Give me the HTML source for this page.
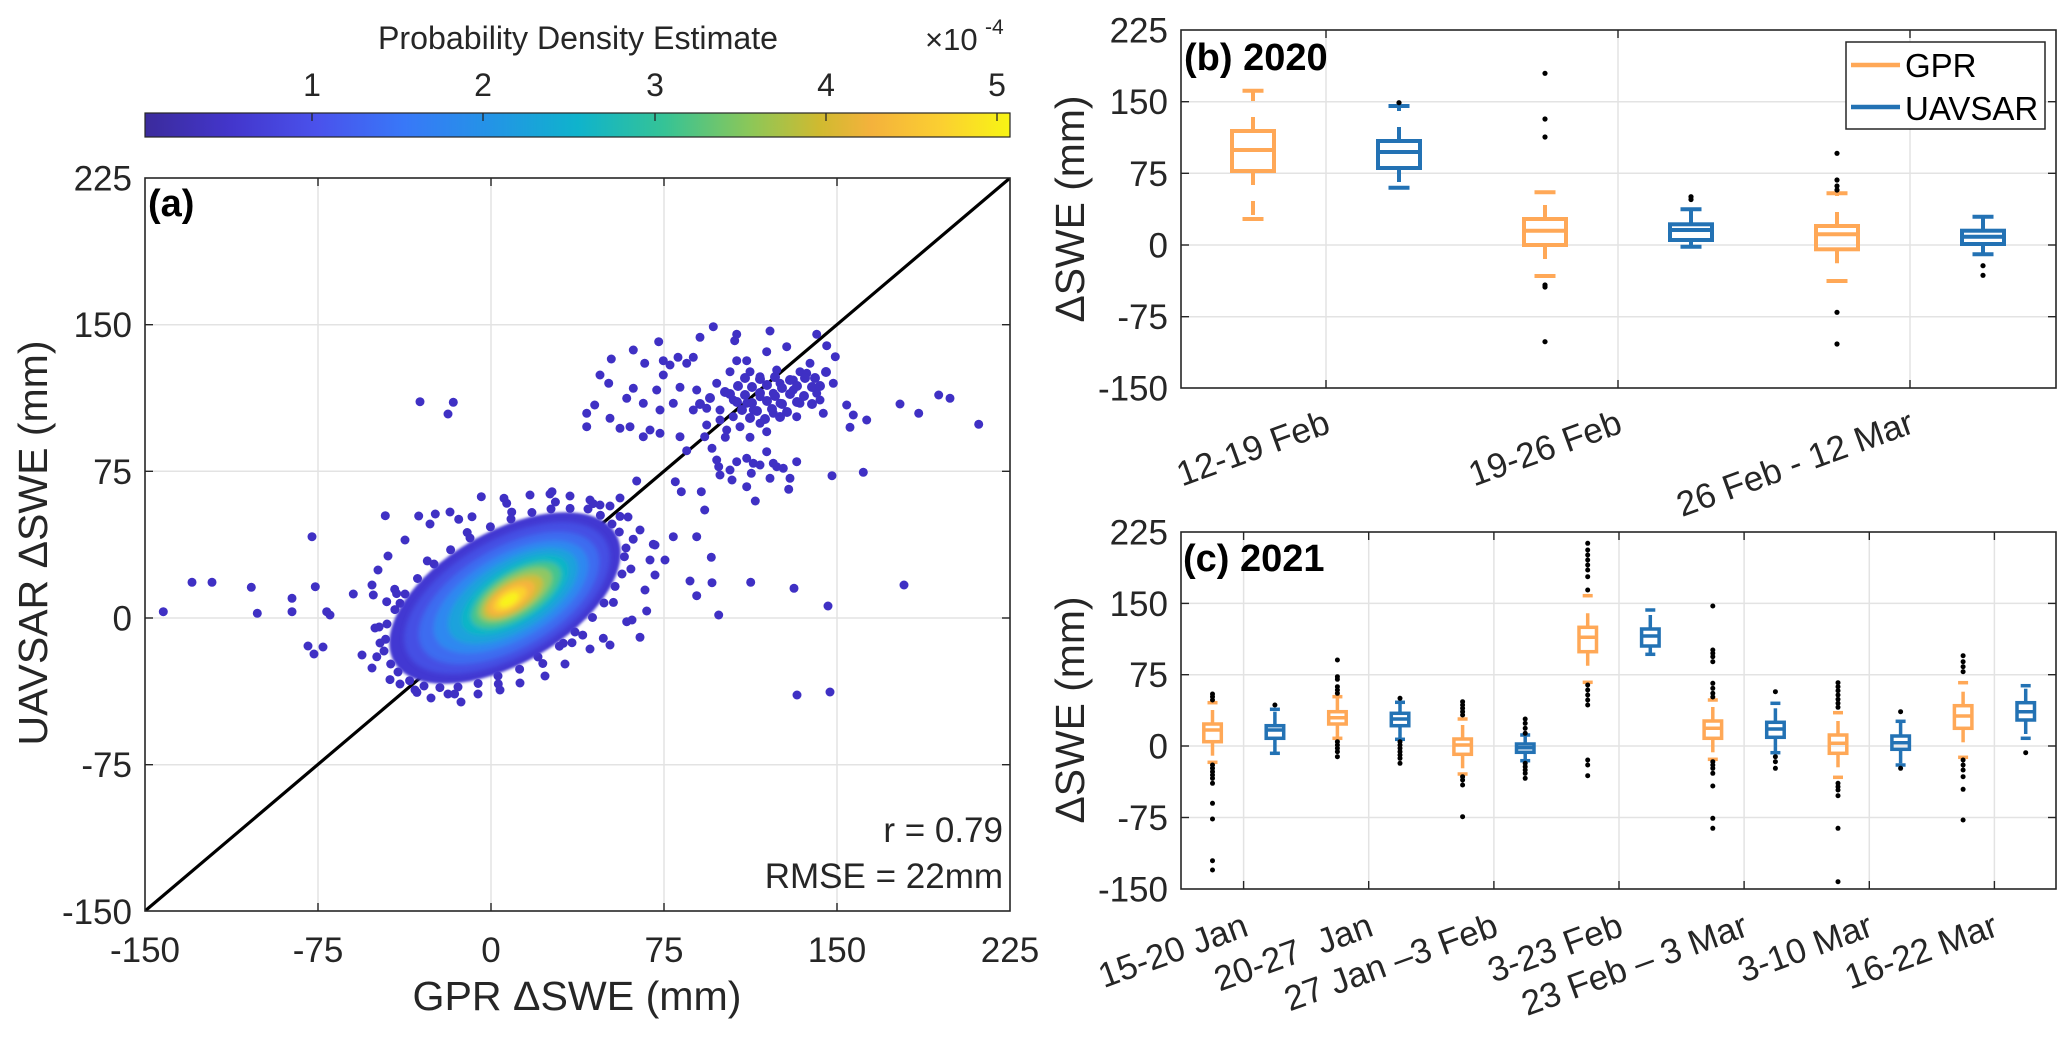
<!DOCTYPE html>
<html><head><meta charset="utf-8"><style>
html,body{margin:0;padding:0;background:#fff;}
body{width:2067px;height:1038px;overflow:hidden;}
svg{display:block;}
text{font-family:"Liberation Sans",Arial,sans-serif;}
</style></head><body>
<svg width="2067" height="1038" viewBox="0 0 2067 1038" xmlns="http://www.w3.org/2000/svg">
<defs>
<linearGradient id="parula" x1="0" y1="0" x2="1" y2="0">
<stop offset="0" stop-color="#3b2b9c"/>
<stop offset="0.10" stop-color="#4336cc"/>
<stop offset="0.20" stop-color="#4a52ec"/>
<stop offset="0.30" stop-color="#3878f8"/>
<stop offset="0.40" stop-color="#2394e6"/>
<stop offset="0.50" stop-color="#0fb3cc"/>
<stop offset="0.60" stop-color="#35c396"/>
<stop offset="0.70" stop-color="#8cc758"/>
<stop offset="0.78" stop-color="#d0ba30"/>
<stop offset="0.84" stop-color="#f4b23c"/>
<stop offset="0.92" stop-color="#fbcf31"/>
<stop offset="1" stop-color="#f8f514"/>
</linearGradient>
<clipPath id="clipA"><rect x="145" y="178" width="865" height="733"/></clipPath>
<filter id="bl" x="-20%" y="-20%" width="140%" height="140%"><feGaussianBlur stdDeviation="2.5"/></filter>
<filter id="bl1" x="-20%" y="-20%" width="140%" height="140%"><feGaussianBlur stdDeviation="1.2"/></filter>
</defs>

<!-- ================= COLORBAR ================= -->
<text x="378" y="49" font-size="32" fill="#262626" textLength="400" lengthAdjust="spacingAndGlyphs">Probability Density Estimate</text>
<text x="925" y="50" font-size="31" fill="#262626">×10</text>
<text x="985" y="34" font-size="21" fill="#262626">-4</text>
<rect x="145" y="113" width="865" height="24" fill="url(#parula)" stroke="#262626" stroke-width="1.2"/>
<g stroke="#262626" stroke-width="1.3">
<line x1="312" y1="113" x2="312" y2="121"/><line x1="483" y1="113" x2="483" y2="121"/>
<line x1="655" y1="113" x2="655" y2="121"/><line x1="826" y1="113" x2="826" y2="121"/>
<line x1="997" y1="113" x2="997" y2="121"/>
</g>
<g font-size="32" fill="#262626" text-anchor="middle">
<text x="312" y="96">1</text><text x="483" y="96">2</text><text x="655" y="96">3</text><text x="826" y="96">4</text><text x="997" y="96">5</text>
</g>

<!-- ================= PANEL A ================= -->
<g stroke="#e3e3e3" stroke-width="1.5">
<line x1="318" y1="178" x2="318" y2="911"/><line x1="491" y1="178" x2="491" y2="911"/>
<line x1="664" y1="178" x2="664" y2="911"/><line x1="837" y1="178" x2="837" y2="911"/>
<line x1="145" y1="324.7" x2="1010" y2="324.7"/><line x1="145" y1="471.3" x2="1010" y2="471.3"/>
<line x1="145" y1="618" x2="1010" y2="618"/><line x1="145" y1="764.7" x2="1010" y2="764.7"/>
</g>
<g clip-path="url(#clipA)">
<line x1="145" y1="911" x2="1010" y2="178" stroke="#000" stroke-width="3.2"/>
<g fill="#3f30c4">
<circle cx="713.3" cy="326.7" r="4.5"/><circle cx="700" cy="337.3" r="4.5"/><circle cx="736.7" cy="334.3" r="4.5"/><circle cx="734.7" cy="340.7" r="4.5"/><circle cx="770" cy="331" r="4.5"/><circle cx="816.7" cy="334.3" r="4.5"/><circle cx="826.7" cy="345.7" r="4.5"/><circle cx="658.7" cy="341.7" r="4.5"/><circle cx="633.3" cy="350" r="4.5"/><circle cx="611.3" cy="359" r="4.5"/><circle cx="644.7" cy="363.3" r="4.5"/><circle cx="663.3" cy="360.7" r="4.5"/><circle cx="678" cy="357.3" r="4.5"/><circle cx="693.3" cy="357.3" r="4.5"/><circle cx="686.7" cy="363.3" r="4.5"/><circle cx="670" cy="365" r="4.5"/><circle cx="835.3" cy="356.7" r="4.5"/><circle cx="810" cy="363.3" r="4.5"/><circle cx="786.7" cy="346.7" r="4.5"/><circle cx="766.7" cy="351.7" r="4.5"/><circle cx="746.7" cy="360.7" r="4.5"/><circle cx="736.7" cy="360.7" r="4.5"/><circle cx="776.7" cy="370" r="4.5"/><circle cx="800" cy="371.7" r="4.5"/><circle cx="600" cy="375" r="4.5"/><circle cx="608.7" cy="383.3" r="4.5"/><circle cx="633.3" cy="388.3" r="4.5"/><circle cx="656.7" cy="390" r="4.5"/><circle cx="663.3" cy="375" r="4.5"/><circle cx="680" cy="387.3" r="4.5"/><circle cx="696.7" cy="390" r="4.5"/><circle cx="716.7" cy="383.3" r="4.5"/><circle cx="730" cy="371.7" r="4.5"/><circle cx="750" cy="371.7" r="4.5"/><circle cx="760" cy="376.7" r="4.5"/><circle cx="780" cy="383.3" r="4.5"/><circle cx="793.3" cy="380" r="4.5"/><circle cx="806.7" cy="373.3" r="4.5"/><circle cx="833.3" cy="383.3" r="4.5"/><circle cx="820" cy="400" r="4.5"/><circle cx="846.7" cy="405" r="4.5"/><circle cx="853.3" cy="415" r="4.5"/><circle cx="866.7" cy="420" r="4.5"/><circle cx="850" cy="427.3" r="4.5"/><circle cx="823.3" cy="413.3" r="4.5"/><circle cx="796.7" cy="416.7" r="4.5"/><circle cx="773.3" cy="413.3" r="4.5"/><circle cx="753.3" cy="410" r="4.5"/><circle cx="733.3" cy="416.7" r="4.5"/><circle cx="720" cy="420" r="4.5"/><circle cx="706.7" cy="425" r="4.5"/><circle cx="726.7" cy="430" r="4.5"/><circle cx="740" cy="426.7" r="4.5"/><circle cx="760" cy="423.3" r="4.5"/><circle cx="766.7" cy="431.7" r="4.5"/><circle cx="750" cy="437.3" r="4.5"/><circle cx="725.3" cy="437.3" r="4.5"/><circle cx="704.7" cy="436.7" r="4.5"/><circle cx="680" cy="436.7" r="4.5"/><circle cx="660" cy="433.3" r="4.5"/><circle cx="643.3" cy="436.7" r="4.5"/><circle cx="650" cy="430" r="4.5"/><circle cx="630" cy="426.7" r="4.5"/><circle cx="620" cy="428.3" r="4.5"/><circle cx="610" cy="418.3" r="4.5"/><circle cx="586.7" cy="413.3" r="4.5"/><circle cx="586.7" cy="426.7" r="4.5"/><circle cx="594.7" cy="405" r="4.5"/><circle cx="626.7" cy="398.3" r="4.5"/><circle cx="643.3" cy="403.3" r="4.5"/><circle cx="660" cy="410" r="4.5"/><circle cx="673.3" cy="403.3" r="4.5"/><circle cx="693.3" cy="410" r="4.5"/><circle cx="706.7" cy="408.3" r="4.5"/><circle cx="720" cy="410" r="4.5"/><circle cx="733.3" cy="400" r="4.5"/><circle cx="746.7" cy="403.3" r="4.5"/><circle cx="760" cy="396.7" r="4.5"/><circle cx="773.3" cy="393.3" r="4.5"/><circle cx="793.3" cy="390" r="4.5"/><circle cx="780" cy="403.3" r="4.5"/><circle cx="800" cy="403.3" r="4.5"/><circle cx="816.7" cy="393.3" r="4.5"/><circle cx="900" cy="404" r="4.5"/><circle cx="918.7" cy="413.3" r="4.5"/><circle cx="938.7" cy="395" r="4.5"/><circle cx="950" cy="398.3" r="4.5"/><circle cx="978.7" cy="424.3" r="4.5"/>
<circle cx="716.7" cy="460" r="4.5"/><circle cx="718.7" cy="466.7" r="4.5"/><circle cx="720" cy="475" r="4.5"/><circle cx="730" cy="470" r="4.5"/><circle cx="732" cy="480" r="4.5"/><circle cx="736.7" cy="461.7" r="4.5"/><circle cx="746.7" cy="458.3" r="4.5"/><circle cx="751.3" cy="473.3" r="4.5"/><circle cx="753.3" cy="463.3" r="4.5"/><circle cx="760" cy="465" r="4.5"/><circle cx="766.7" cy="451.7" r="4.5"/><circle cx="773.3" cy="463.3" r="4.5"/><circle cx="770" cy="478.3" r="4.5"/><circle cx="776.7" cy="466.7" r="4.5"/><circle cx="783.3" cy="468.3" r="4.5"/><circle cx="790" cy="478.3" r="4.5"/><circle cx="788.7" cy="489.3" r="4.5"/><circle cx="796.7" cy="461.7" r="4.5"/><circle cx="746.7" cy="486.7" r="4.5"/><circle cx="755.3" cy="501" r="4.5"/><circle cx="704.7" cy="510" r="4.5"/><circle cx="686.7" cy="450.7" r="4.5"/><circle cx="675.3" cy="481.7" r="4.5"/><circle cx="681.3" cy="491.7" r="4.5"/><circle cx="701.3" cy="491.7" r="4.5"/><circle cx="832" cy="475.7" r="4.5"/><circle cx="863.3" cy="472.3" r="4.5"/><circle cx="636.7" cy="481" r="4.5"/><circle cx="712" cy="448.3" r="4.5"/>
<circle cx="420" cy="401.7" r="4.5"/><circle cx="453.3" cy="402.3" r="4.5"/><circle cx="448" cy="414" r="4.5"/><circle cx="312" cy="536.7" r="4.5"/><circle cx="385.3" cy="515.7" r="4.5"/><circle cx="418.7" cy="516" r="4.5"/><circle cx="435.3" cy="514" r="4.5"/><circle cx="458.7" cy="519.3" r="4.5"/><circle cx="472" cy="516.7" r="4.5"/><circle cx="481.3" cy="496.7" r="4.5"/><circle cx="504" cy="498.3" r="4.5"/><circle cx="506.7" cy="503.3" r="4.5"/><circle cx="552" cy="491.7" r="4.5"/>
<circle cx="192" cy="582.3" r="4.5"/><circle cx="212" cy="582.3" r="4.5"/><circle cx="251.3" cy="587.3" r="4.5"/><circle cx="163.3" cy="611.7" r="4.5"/><circle cx="257.3" cy="613.3" r="4.5"/><circle cx="292" cy="598.3" r="4.5"/><circle cx="292" cy="611.7" r="4.5"/><circle cx="315.3" cy="586.7" r="4.5"/><circle cx="326.7" cy="611.7" r="4.5"/><circle cx="330" cy="615" r="4.5"/><circle cx="353.3" cy="594" r="4.5"/><circle cx="373.3" cy="595" r="4.5"/><circle cx="386.7" cy="601.7" r="4.5"/><circle cx="400" cy="603.3" r="4.5"/><circle cx="394.7" cy="589.3" r="4.5"/>
<circle cx="673.3" cy="536.7" r="4.5"/><circle cx="696.7" cy="536.7" r="4.5"/><circle cx="711.3" cy="557.3" r="4.5"/><circle cx="690" cy="581" r="4.5"/><circle cx="712" cy="582.7" r="4.5"/><circle cx="750.7" cy="582.3" r="4.5"/><circle cx="794" cy="588.3" r="4.5"/><circle cx="696.7" cy="595.7" r="4.5"/><circle cx="718.7" cy="615" r="4.5"/><circle cx="828" cy="606" r="4.5"/><circle cx="904" cy="585" r="4.5"/><circle cx="653.3" cy="544.3" r="4.5"/><circle cx="646.7" cy="611" r="4.5"/><circle cx="626.7" cy="621.7" r="4.5"/><circle cx="640" cy="637.3" r="4.5"/><circle cx="610" cy="645" r="4.5"/><circle cx="603.3" cy="638.3" r="4.5"/><circle cx="590" cy="649" r="4.5"/><circle cx="563.3" cy="643.3" r="4.5"/><circle cx="572" cy="642.7" r="4.5"/>
<circle cx="314" cy="654" r="4.5"/><circle cx="323" cy="647" r="4.5"/><circle cx="308" cy="646" r="4.5"/><circle cx="830" cy="692" r="4.5"/><circle cx="797" cy="695" r="4.5"/><circle cx="431" cy="698" r="4.5"/><circle cx="461" cy="702" r="4.5"/><circle cx="448" cy="694" r="4.5"/><circle cx="415" cy="690" r="4.5"/><circle cx="400" cy="684" r="4.5"/><circle cx="372" cy="668" r="4.5"/><circle cx="362" cy="655" r="4.5"/><circle cx="478" cy="694" r="4.5"/><circle cx="500" cy="690" r="4.5"/><circle cx="520" cy="683" r="4.5"/><circle cx="545" cy="676" r="4.5"/><circle cx="565" cy="664" r="4.5"/><circle cx="632" cy="620" r="4.5"/><circle cx="645" cy="590" r="4.5"/><circle cx="650" cy="560" r="4.5"/><circle cx="655" cy="545" r="4.5"/><circle cx="640" cy="530" r="4.5"/><circle cx="628" cy="517" r="4.5"/><circle cx="610" cy="506" r="4.5"/><circle cx="590" cy="500" r="4.5"/><circle cx="570" cy="496" r="4.5"/><circle cx="550" cy="494" r="4.5"/><circle cx="530" cy="495" r="4.5"/><circle cx="450" cy="512" r="4.5"/><circle cx="430" cy="524" r="4.5"/><circle cx="405" cy="540" r="4.5"/><circle cx="388" cy="556" r="4.5"/><circle cx="378" cy="570" r="4.5"/><circle cx="372" cy="585" r="4.5"/><circle cx="375" cy="628" r="4.5"/><circle cx="380" cy="643" r="4.5"/><circle cx="600" cy="505" r="4.5"/><circle cx="620" cy="498" r="4.5"/><circle cx="655" cy="575" r="4.5"/><circle cx="665" cy="560" r="4.5"/>
<!-- upper cluster dense dots -->
<circle cx="745" cy="378" r="5"/><circle cx="760" cy="379" r="5"/><circle cx="775" cy="377" r="5"/><circle cx="790" cy="380" r="5"/><circle cx="805" cy="378" r="5"/>
<circle cx="738" cy="386" r="5"/><circle cx="752" cy="387" r="5"/><circle cx="767" cy="385" r="5"/><circle cx="782" cy="388" r="5"/><circle cx="797" cy="386" r="5"/><circle cx="812" cy="387" r="5"/>
<circle cx="730" cy="394" r="5"/><circle cx="745" cy="395" r="5"/><circle cx="760" cy="393" r="5"/><circle cx="775" cy="396" r="5"/><circle cx="790" cy="394" r="5"/><circle cx="804" cy="396" r="5"/>
<circle cx="737" cy="402" r="5"/><circle cx="752" cy="403" r="5"/><circle cx="767" cy="401" r="5"/><circle cx="782" cy="404" r="5"/><circle cx="797" cy="402" r="5"/>
<circle cx="742" cy="410" r="5"/><circle cx="757" cy="411" r="5"/><circle cx="772" cy="409" r="5"/><circle cx="787" cy="412" r="5"/>
<circle cx="750" cy="418" r="5"/><circle cx="765" cy="419" r="5"/><circle cx="780" cy="417" r="5"/>
<circle cx="725" cy="392" r="5"/><circle cx="815" cy="378" r="5"/><circle cx="820" cy="386" r="5"/><circle cx="710" cy="398" r="5"/><circle cx="700" cy="404" r="5"/><circle cx="812" cy="404" r="5"/><circle cx="826" cy="372" r="5"/>
<!-- main cluster perimeter dots -->
<circle cx="619.3" cy="532" r="4.5"/><circle cx="624.4" cy="556.7" r="4.5"/><circle cx="615.1" cy="586.4" r="4.5"/><circle cx="592.5" cy="617.5" r="4.5"/><circle cx="559.4" cy="646.2" r="4.5"/><circle cx="519.6" cy="669.2" r="4.5"/><circle cx="478.1" cy="683.5" r="4.5"/><circle cx="439.9" cy="687.6" r="4.5"/><circle cx="409.6" cy="680.7" r="4.5"/><circle cx="390.7" cy="664" r="4.5"/><circle cx="385.6" cy="639.3" r="4.5"/><circle cx="394.9" cy="609.6" r="4.5"/><circle cx="417.5" cy="578.5" r="4.5"/><circle cx="450.6" cy="549.8" r="4.5"/><circle cx="490.4" cy="526.8" r="4.5"/><circle cx="531.9" cy="512.5" r="4.5"/><circle cx="570.1" cy="508.4" r="4.5"/><circle cx="600.4" cy="515.3" r="4.5"/>
<circle cx="633.2" cy="539.2" r="4.5"/><circle cx="630.9" cy="569" r="4.5"/><circle cx="613.4" cy="602.4" r="4.5"/><circle cx="582.7" cy="635.1" r="4.5"/><circle cx="542.8" cy="663.5" r="4.5"/><circle cx="498.3" cy="683.9" r="4.5"/><circle cx="454.6" cy="694" r="4.5"/><circle cx="416.9" cy="692.4" r="4.5"/><circle cx="390" cy="679.6" r="4.5"/><circle cx="376.8" cy="656.8" r="4.5"/><circle cx="379.1" cy="627" r="4.5"/><circle cx="396.6" cy="593.6" r="4.5"/><circle cx="427.3" cy="560.9" r="4.5"/><circle cx="467.2" cy="532.5" r="4.5"/><circle cx="511.7" cy="512.1" r="4.5"/><circle cx="555.4" cy="502" r="4.5"/><circle cx="593.1" cy="503.6" r="4.5"/><circle cx="620" cy="516.4" r="4.5"/>
<circle cx="626" cy="548" r="4.5"/><circle cx="622" cy="574" r="4.5"/><circle cx="604" cy="603" r="4.5"/><circle cx="575" cy="632" r="4.5"/><circle cx="538" cy="657" r="4.5"/><circle cx="498" cy="676" r="4.5"/><circle cx="458" cy="687" r="4.5"/><circle cx="424" cy="686" r="4.5"/><circle cx="398" cy="672" r="4.5"/><circle cx="384" cy="651" r="4.5"/><circle cx="387" cy="624" r="4.5"/><circle cx="405" cy="594" r="4.5"/><circle cx="434" cy="564" r="4.5"/><circle cx="470" cy="538" r="4.5"/><circle cx="511" cy="519" r="4.5"/><circle cx="551" cy="509" r="4.5"/><circle cx="588" cy="509" r="4.5"/><circle cx="612" cy="524" r="4.5"/>
</g>
<!-- dense cluster density layers -->
<ellipse cx="505" cy="598" rx="128" ry="66" transform="rotate(-30 505 598)" fill="#4239d2" filter="url(#bl1)"/>
<g filter="url(#bl)">
<ellipse cx="507" cy="598" rx="114" ry="58" transform="rotate(-30 507 598)" fill="#4550e4"/>
<ellipse cx="509" cy="598" rx="100" ry="50" transform="rotate(-30 509 598)" fill="#3d6cf0"/>
<ellipse cx="511" cy="597" rx="86" ry="42" transform="rotate(-30 511 597)" fill="#2e88f0"/>
<ellipse cx="513" cy="596" rx="73" ry="35" transform="rotate(-31 513 596)" fill="#1ba2dc"/>
<ellipse cx="515" cy="595" rx="61" ry="28" transform="rotate(-32 515 595)" fill="#10b6c6"/>
<ellipse cx="516" cy="595" rx="51" ry="23" transform="rotate(-32 516 595)" fill="#45c48e"/>
<ellipse cx="515" cy="595" rx="42" ry="18.5" transform="rotate(-32 515 595)" fill="#8fc763"/>
<ellipse cx="513" cy="597" rx="34" ry="15" transform="rotate(-32 513 597)" fill="#cfbd3b"/>
<ellipse cx="511" cy="598" rx="27" ry="12" transform="rotate(-32 511 598)" fill="#f6b43c"/>
<ellipse cx="510" cy="599" rx="19" ry="9" transform="rotate(-32 510 599)" fill="#fbd02e"/>
<ellipse cx="509" cy="600" rx="11" ry="5.5" transform="rotate(-32 509 600)" fill="#f9f31a"/>
</g>
</g>
<!-- axes frame A -->
<rect x="145" y="178" width="865" height="733" fill="none" stroke="#262626" stroke-width="1.6"/>
<g stroke="#262626" stroke-width="1.4">
<line x1="318" y1="911" x2="318" y2="903"/><line x1="491" y1="911" x2="491" y2="903"/><line x1="664" y1="911" x2="664" y2="903"/><line x1="837" y1="911" x2="837" y2="903"/>
<line x1="318" y1="178" x2="318" y2="186"/><line x1="491" y1="178" x2="491" y2="186"/><line x1="664" y1="178" x2="664" y2="186"/><line x1="837" y1="178" x2="837" y2="186"/>
<line x1="145" y1="324.7" x2="153" y2="324.7"/><line x1="145" y1="471.3" x2="153" y2="471.3"/><line x1="145" y1="618" x2="153" y2="618"/><line x1="145" y1="764.7" x2="153" y2="764.7"/>
<line x1="1010" y1="324.7" x2="1002" y2="324.7"/><line x1="1010" y1="471.3" x2="1002" y2="471.3"/><line x1="1010" y1="618" x2="1002" y2="618"/><line x1="1010" y1="764.7" x2="1002" y2="764.7"/>
</g>
<text x="148" y="216" font-size="38" font-weight="bold" fill="#000">(a)</text>
<g font-size="35" fill="#262626" text-anchor="end">
<text x="132" y="190.5">225</text><text x="132" y="337.2">150</text><text x="132" y="483.8">75</text><text x="132" y="630.5">0</text><text x="132" y="777.2">-75</text><text x="132" y="923.8">-150</text>
<text x="1003" y="842">r = 0.79</text><text x="1003" y="888">RMSE = 22mm</text>
</g>
<g font-size="35" fill="#262626" text-anchor="middle">
<text x="145" y="962">-150</text><text x="318" y="962">-75</text><text x="491" y="962">0</text><text x="664" y="962">75</text><text x="837" y="962">150</text><text x="1010" y="962">225</text>
</g>
<text x="577" y="1010" font-size="41" fill="#262626" text-anchor="middle" textLength="329" lengthAdjust="spacingAndGlyphs">GPR ΔSWE (mm)</text>
<text transform="translate(47,543) rotate(-90)" font-size="41" fill="#262626" text-anchor="middle" textLength="405" lengthAdjust="spacingAndGlyphs">UAVSAR ΔSWE (mm)</text>

<!-- ================= PANEL B ================= -->
<g stroke="#e3e3e3" stroke-width="1.5">
<line x1="1326" y1="30" x2="1326" y2="388"/><line x1="1618" y1="30" x2="1618" y2="388"/><line x1="1910" y1="30" x2="1910" y2="388"/>
<line x1="1181" y1="101.7" x2="2056" y2="101.7"/><line x1="1181" y1="173.3" x2="2056" y2="173.3"/><line x1="1181" y1="245" x2="2056" y2="245"/><line x1="1181" y1="316.7" x2="2056" y2="316.7"/>
</g>
<!-- GPR 2020 -->
<g stroke="#ffa857" stroke-width="4" fill="none">
<rect x="1232" y="131" width="42" height="40"/><line x1="1232" y1="150" x2="1274" y2="150"/>
<line x1="1253" y1="131" x2="1253" y2="90.7" stroke-dasharray="14 16"/><line x1="1253" y1="171" x2="1253" y2="219" stroke-dasharray="14 16"/>
<line x1="1242.5" y1="90.7" x2="1263.5" y2="90.7"/><line x1="1242.5" y1="219" x2="1263.5" y2="219"/>
<rect x="1524" y="219" width="42" height="26"/><line x1="1524" y1="230.7" x2="1566" y2="230.7"/>
<line x1="1545" y1="219" x2="1545" y2="192.3" stroke-dasharray="14 16"/><line x1="1545" y1="245" x2="1545" y2="276" stroke-dasharray="14 16"/>
<line x1="1534.5" y1="192.3" x2="1555.5" y2="192.3"/><line x1="1534.5" y1="276" x2="1555.5" y2="276"/>
<rect x="1816" y="226" width="42" height="23.3"/><line x1="1816" y1="234.3" x2="1858" y2="234.3"/>
<line x1="1837" y1="226" x2="1837" y2="193.3" stroke-dasharray="14 16"/><line x1="1837" y1="249.3" x2="1837" y2="281" stroke-dasharray="14 16"/>
<line x1="1826.5" y1="193.3" x2="1847.5" y2="193.3"/><line x1="1826.5" y1="281" x2="1847.5" y2="281"/>
</g>
<!-- UAVSAR 2020 -->
<g stroke="#2372b4" stroke-width="4" fill="none">
<rect x="1378" y="141" width="42" height="27"/><line x1="1378" y1="152" x2="1420" y2="152"/>
<line x1="1399" y1="141" x2="1399" y2="106" stroke-dasharray="14 16"/><line x1="1399" y1="168" x2="1399" y2="187.7" stroke-dasharray="14 16"/>
<line x1="1388.5" y1="106" x2="1409.5" y2="106"/><line x1="1388.5" y1="187.7" x2="1409.5" y2="187.7"/>
<rect x="1670" y="224.3" width="42" height="15.7"/><line x1="1670" y1="230" x2="1712" y2="230"/>
<line x1="1691" y1="224.3" x2="1691" y2="209.3" stroke-dasharray="14 16"/><line x1="1691" y1="240" x2="1691" y2="246.7"/>
<line x1="1680.5" y1="209.3" x2="1701.5" y2="209.3"/><line x1="1680.5" y1="246.7" x2="1701.5" y2="246.7"/>
<rect x="1962" y="230.7" width="42" height="13.3"/><line x1="1962" y1="236.7" x2="2004" y2="236.7"/>
<line x1="1983" y1="230.7" x2="1983" y2="216.7" stroke-dasharray="14 16"/><line x1="1983" y1="244" x2="1983" y2="254.3"/>
<line x1="1972.5" y1="216.7" x2="1993.5" y2="216.7"/><line x1="1972.5" y1="254.3" x2="1993.5" y2="254.3"/>
</g>
<g fill="#000">
<circle cx="1399" cy="102.7" r="2.6"/>
<circle cx="1545" cy="73.3" r="2.6"/><circle cx="1545" cy="119" r="2.6"/><circle cx="1545" cy="137" r="2.6"/><circle cx="1545" cy="285" r="2.6"/><circle cx="1545" cy="287" r="2.6"/><circle cx="1545" cy="341.7" r="2.6"/>
<circle cx="1691" cy="196.7" r="2.6"/><circle cx="1691" cy="199.5" r="2.6"/>
<circle cx="1837" cy="153.3" r="2.6"/><circle cx="1837" cy="180" r="2.6"/><circle cx="1837" cy="186" r="2.6"/><circle cx="1837" cy="190" r="2.6"/><circle cx="1837" cy="312.3" r="2.6"/><circle cx="1837" cy="344" r="2.6"/>
<circle cx="1983" cy="265.7" r="2.6"/><circle cx="1983" cy="275.3" r="2.6"/>
</g>
<rect x="1181" y="30" width="875" height="358" fill="none" stroke="#262626" stroke-width="1.6"/>
<g stroke="#262626" stroke-width="1.4">
<line x1="1326" y1="388" x2="1326" y2="380"/><line x1="1618" y1="388" x2="1618" y2="380"/><line x1="1910" y1="388" x2="1910" y2="380"/>
<line x1="1326" y1="30" x2="1326" y2="38"/><line x1="1618" y1="30" x2="1618" y2="38"/><line x1="1910" y1="30" x2="1910" y2="38"/>
<line x1="1181" y1="101.7" x2="1189" y2="101.7"/><line x1="1181" y1="173.3" x2="1189" y2="173.3"/><line x1="1181" y1="245" x2="1189" y2="245"/><line x1="1181" y1="316.7" x2="1189" y2="316.7"/>
<line x1="2056" y1="101.7" x2="2048" y2="101.7"/><line x1="2056" y1="173.3" x2="2048" y2="173.3"/><line x1="2056" y1="245" x2="2048" y2="245"/><line x1="2056" y1="316.7" x2="2048" y2="316.7"/>
</g>
<!-- legend -->
<rect x="1846" y="42" width="199" height="87" fill="#fff" stroke="#262626" stroke-width="1.5"/>
<line x1="1851" y1="65" x2="1900" y2="65" stroke="#ffa857" stroke-width="4.5"/>
<line x1="1851" y1="107" x2="1900" y2="107" stroke="#2372b4" stroke-width="4.5"/>
<text x="1905" y="77" font-size="33" fill="#000">GPR</text>
<text x="1905" y="120" font-size="33" fill="#000">UAVSAR</text>
<text x="1184" y="70" font-size="38" font-weight="bold" fill="#000">(b) 2020</text>
<g font-size="35" fill="#262626" text-anchor="end">
<text x="1168" y="42.5">225</text><text x="1168" y="114.2">150</text><text x="1168" y="185.8">75</text><text x="1168" y="257.5">0</text><text x="1168" y="329.2">-75</text><text x="1168" y="400.5">-150</text>
</g>
<g font-size="35" fill="#262626" text-anchor="end">
<text transform="translate(1332,432) rotate(-20)">12-19 Feb</text>
<text transform="translate(1624,432) rotate(-20)">19-26 Feb</text>
<text transform="translate(1916,432) rotate(-20)">26 Feb - 12 Mar</text>
</g>
<text transform="translate(1084,209) rotate(-90)" font-size="41" fill="#262626" text-anchor="middle" textLength="227" lengthAdjust="spacingAndGlyphs">ΔSWE (mm)</text>

<!-- ================= PANEL C ================= -->
<g stroke="#e3e3e3" stroke-width="1.5">
<line x1="1243.6" y1="532" x2="1243.6" y2="889"/><line x1="1368.7" y1="532" x2="1368.7" y2="889"/><line x1="1493.9" y1="532" x2="1493.9" y2="889"/><line x1="1619" y1="532" x2="1619" y2="889"/><line x1="1744.1" y1="532" x2="1744.1" y2="889"/><line x1="1869.3" y1="532" x2="1869.3" y2="889"/><line x1="1994.4" y1="532" x2="1994.4" y2="889"/>
<line x1="1181" y1="603.4" x2="2056" y2="603.4"/><line x1="1181" y1="674.7" x2="2056" y2="674.7"/><line x1="1181" y1="746" x2="2056" y2="746"/><line x1="1181" y1="817.5" x2="2056" y2="817.5"/>
</g>
<!-- GPR 2021 -->
<g stroke="#ffa857" stroke-width="3.5" fill="none">
<rect x="1203.8" y="724" width="17.5" height="17.7"/><line x1="1203.8" y1="730" x2="1221.3" y2="730"/>
<line x1="1212.5" y1="724" x2="1212.5" y2="702.7" stroke-dasharray="14 16"/><line x1="1212.5" y1="741.7" x2="1212.5" y2="762.3" stroke-dasharray="14 16"/>
<line x1="1207.5" y1="702.7" x2="1217.5" y2="702.7"/><line x1="1207.5" y1="762.3" x2="1217.5" y2="762.3"/>

<rect x="1328.7" y="711.7" width="17.5" height="12.3"/><line x1="1328.7" y1="717.7" x2="1346.2" y2="717.7"/>
<line x1="1337.4" y1="711.7" x2="1337.4" y2="696.7" stroke-dasharray="14 16"/><line x1="1337.4" y1="724" x2="1337.4" y2="738.3" stroke-dasharray="14 16"/>
<line x1="1332.4" y1="696.7" x2="1342.4" y2="696.7"/><line x1="1332.4" y1="738.3" x2="1342.4" y2="738.3"/>

<rect x="1453.9" y="739" width="17.5" height="15.3"/><line x1="1453.9" y1="745" x2="1471.4" y2="745"/>
<line x1="1462.6" y1="739" x2="1462.6" y2="719" stroke-dasharray="14 16"/><line x1="1462.6" y1="754.3" x2="1462.6" y2="774" stroke-dasharray="14 16"/>
<line x1="1457.6" y1="719" x2="1467.6" y2="719"/><line x1="1457.6" y1="774" x2="1467.6" y2="774"/>

<rect x="1579" y="627.3" width="17.5" height="24.4"/><line x1="1579" y1="637.3" x2="1596.5" y2="637.3"/>
<line x1="1587.7" y1="627.3" x2="1587.7" y2="595.7" stroke-dasharray="14 16"/><line x1="1587.7" y1="651.7" x2="1587.7" y2="682.3" stroke-dasharray="14 16"/>
<line x1="1582.7" y1="595.7" x2="1592.7" y2="595.7"/><line x1="1582.7" y1="682.3" x2="1592.7" y2="682.3"/>

<rect x="1704.1" y="721" width="17.5" height="17.3"/><line x1="1704.1" y1="728.3" x2="1721.6" y2="728.3"/>
<line x1="1712.8" y1="721" x2="1712.8" y2="700" stroke-dasharray="14 16"/><line x1="1712.8" y1="738.3" x2="1712.8" y2="759.3" stroke-dasharray="14 16"/>
<line x1="1707.8" y1="700" x2="1717.8" y2="700"/><line x1="1707.8" y1="759.3" x2="1717.8" y2="759.3"/>

<rect x="1829.3" y="735" width="17.5" height="18.3"/><line x1="1829.3" y1="743.3" x2="1846.8" y2="743.3"/>
<line x1="1838" y1="735" x2="1838" y2="712.7" stroke-dasharray="14 16"/><line x1="1838" y1="753.3" x2="1838" y2="777.3" stroke-dasharray="14 16"/>
<line x1="1833" y1="712.7" x2="1843" y2="712.7"/><line x1="1833" y1="777.3" x2="1843" y2="777.3"/>

<rect x="1954.4" y="705.7" width="17.5" height="22.6"/><line x1="1954.4" y1="716" x2="1971.9" y2="716"/>
<line x1="1963.1" y1="705.7" x2="1963.1" y2="682.7" stroke-dasharray="14 16"/><line x1="1963.1" y1="728.3" x2="1963.1" y2="757.3" stroke-dasharray="14 16"/>
<line x1="1958.1" y1="682.7" x2="1968.1" y2="682.7"/><line x1="1958.1" y1="757.3" x2="1968.1" y2="757.3"/>
</g>
<!-- UAVSAR 2021 -->
<g stroke="#2372b4" stroke-width="3.5" fill="none">
<rect x="1266.2" y="725.7" width="17.5" height="12.6"/><line x1="1266.2" y1="730" x2="1283.7" y2="730"/>
<line x1="1274.9" y1="725.7" x2="1274.9" y2="709.3" stroke-dasharray="14 16"/><line x1="1274.9" y1="738.3" x2="1274.9" y2="753.3" stroke-dasharray="14 16"/>
<line x1="1269.9" y1="709.3" x2="1279.9" y2="709.3"/><line x1="1269.9" y1="753.3" x2="1279.9" y2="753.3"/>

<rect x="1391.3" y="713.3" width="17.5" height="12.4"/><line x1="1391.3" y1="719" x2="1408.8" y2="719"/>
<line x1="1400" y1="713.3" x2="1400" y2="702.3" stroke-dasharray="14 16"/><line x1="1400" y1="725.7" x2="1400" y2="739.3" stroke-dasharray="14 16"/>
<line x1="1395" y1="702.3" x2="1405" y2="702.3"/><line x1="1395" y1="739.3" x2="1405" y2="739.3"/>

<rect x="1516.5" y="744" width="17.5" height="8.3"/><line x1="1516.5" y1="747.7" x2="1534" y2="747.7"/>
<line x1="1525.2" y1="744" x2="1525.2" y2="735" stroke-dasharray="14 16"/><line x1="1525.2" y1="752.3" x2="1525.2" y2="760.7" stroke-dasharray="14 16"/>
<line x1="1520.2" y1="735" x2="1530.2" y2="735"/><line x1="1520.2" y1="760.7" x2="1530.2" y2="760.7"/>

<rect x="1641.6" y="629" width="17.5" height="17"/><line x1="1641.6" y1="636" x2="1659.1" y2="636"/>
<line x1="1650.3" y1="629" x2="1650.3" y2="610" stroke-dasharray="14 16"/><line x1="1650.3" y1="646" x2="1650.3" y2="654.3" stroke-dasharray="14 16"/>
<line x1="1645.3" y1="610" x2="1655.3" y2="610"/><line x1="1645.3" y1="654.3" x2="1655.3" y2="654.3"/>

<rect x="1766.7" y="722.3" width="17.5" height="15"/><line x1="1766.7" y1="729" x2="1784.2" y2="729"/>
<line x1="1775.4" y1="722.3" x2="1775.4" y2="703.3" stroke-dasharray="14 16"/><line x1="1775.4" y1="737.3" x2="1775.4" y2="752.7" stroke-dasharray="14 16"/>
<line x1="1770.4" y1="703.3" x2="1780.4" y2="703.3"/><line x1="1770.4" y1="752.7" x2="1780.4" y2="752.7"/>

<rect x="1891.9" y="736" width="17.5" height="13.3"/><line x1="1891.9" y1="742.7" x2="1909.4" y2="742.7"/>
<line x1="1900.6" y1="736" x2="1900.6" y2="721.3" stroke-dasharray="14 16"/><line x1="1900.6" y1="749.3" x2="1900.6" y2="765" stroke-dasharray="14 16"/>
<line x1="1895.6" y1="721.3" x2="1905.6" y2="721.3"/><line x1="1895.6" y1="765" x2="1905.6" y2="765"/>

<rect x="2017" y="702.7" width="17.5" height="17.3"/><line x1="2017" y1="711.7" x2="2034.5" y2="711.7"/>
<line x1="2025.7" y1="702.7" x2="2025.7" y2="685.7" stroke-dasharray="14 16"/><line x1="2025.7" y1="720" x2="2025.7" y2="738.3" stroke-dasharray="14 16"/>
<line x1="2020.7" y1="685.7" x2="2030.7" y2="685.7"/><line x1="2020.7" y1="738.3" x2="2030.7" y2="738.3"/>
</g>
<g fill="#000">
<circle cx="1212.5" cy="694" r="2.5"/><circle cx="1212.5" cy="696.7" r="2.5"/><circle cx="1212.5" cy="700" r="2.5"/>
<circle cx="1212.5" cy="765" r="2.5"/><circle cx="1212.5" cy="768.3" r="2.5"/><circle cx="1212.5" cy="771.7" r="2.5"/><circle cx="1212.5" cy="775" r="2.5"/><circle cx="1212.5" cy="778.3" r="2.5"/><circle cx="1212.5" cy="783.3" r="2.5"/><circle cx="1212.5" cy="803.3" r="2.5"/><circle cx="1212.5" cy="819" r="2.5"/><circle cx="1212.5" cy="860.7" r="2.5"/><circle cx="1212.5" cy="870" r="2.5"/>
<circle cx="1274.9" cy="705" r="2.5"/>
<circle cx="1337.4" cy="660" r="2.5"/><circle cx="1337.4" cy="676.7" r="2.5"/><circle cx="1337.4" cy="679.3" r="2.5"/><circle cx="1337.4" cy="686.7" r="2.5"/><circle cx="1337.4" cy="690" r="2.5"/><circle cx="1337.4" cy="693.3" r="2.5"/>
<circle cx="1337.4" cy="741.7" r="2.5"/><circle cx="1337.4" cy="745" r="2.5"/><circle cx="1337.4" cy="748.3" r="2.5"/><circle cx="1337.4" cy="751.7" r="2.5"/><circle cx="1337.4" cy="756.7" r="2.5"/>
<circle cx="1400" cy="698.3" r="2.5"/>
<circle cx="1400" cy="741.7" r="2.5"/><circle cx="1400" cy="745" r="2.5"/><circle cx="1400" cy="748.3" r="2.5"/><circle cx="1400" cy="751.7" r="2.5"/><circle cx="1400" cy="755" r="2.5"/><circle cx="1400" cy="758.3" r="2.5"/><circle cx="1400" cy="763.3" r="2.5"/>
<circle cx="1462.6" cy="701.7" r="2.5"/><circle cx="1462.6" cy="705" r="2.5"/><circle cx="1462.6" cy="708.3" r="2.5"/><circle cx="1462.6" cy="711.7" r="2.5"/><circle cx="1462.6" cy="715" r="2.5"/>
<circle cx="1462.6" cy="776.7" r="2.5"/><circle cx="1462.6" cy="780" r="2.5"/><circle cx="1462.6" cy="785" r="2.5"/><circle cx="1462.6" cy="816.7" r="2.5"/>
<circle cx="1525.2" cy="719" r="2.5"/><circle cx="1525.2" cy="723.3" r="2.5"/><circle cx="1525.2" cy="728.3" r="2.5"/><circle cx="1525.2" cy="733.3" r="2.5"/>
<circle cx="1525.2" cy="763.3" r="2.5"/><circle cx="1525.2" cy="766.7" r="2.5"/><circle cx="1525.2" cy="770" r="2.5"/><circle cx="1525.2" cy="773.3" r="2.5"/><circle cx="1525.2" cy="778.3" r="2.5"/>
<circle cx="1587.7" cy="543.3" r="2.5"/><circle cx="1587.7" cy="550" r="2.5"/><circle cx="1587.7" cy="555" r="2.5"/><circle cx="1587.7" cy="560" r="2.5"/><circle cx="1587.7" cy="565" r="2.5"/><circle cx="1587.7" cy="570" r="2.5"/><circle cx="1587.7" cy="576.7" r="2.5"/><circle cx="1587.7" cy="590" r="2.5"/>
<circle cx="1587.7" cy="685" r="2.5"/><circle cx="1587.7" cy="690" r="2.5"/><circle cx="1587.7" cy="695" r="2.5"/><circle cx="1587.7" cy="700" r="2.5"/><circle cx="1587.7" cy="705" r="2.5"/><circle cx="1587.7" cy="760" r="2.5"/><circle cx="1587.7" cy="765" r="2.5"/><circle cx="1587.7" cy="775.7" r="2.5"/>
<circle cx="1712.8" cy="606" r="2.5"/><circle cx="1712.8" cy="650" r="2.5"/><circle cx="1712.8" cy="653.3" r="2.5"/><circle cx="1712.8" cy="656.7" r="2.5"/><circle cx="1712.8" cy="661.7" r="2.5"/>
<circle cx="1712.8" cy="683.3" r="2.5"/><circle cx="1712.8" cy="688.3" r="2.5"/><circle cx="1712.8" cy="693.3" r="2.5"/><circle cx="1712.8" cy="697" r="2.5"/>
<circle cx="1712.8" cy="761.7" r="2.5"/><circle cx="1712.8" cy="765" r="2.5"/><circle cx="1712.8" cy="768.3" r="2.5"/><circle cx="1712.8" cy="773.3" r="2.5"/><circle cx="1712.8" cy="786" r="2.5"/><circle cx="1712.8" cy="818.3" r="2.5"/><circle cx="1712.8" cy="828.3" r="2.5"/>
<circle cx="1775.4" cy="691.7" r="2.5"/><circle cx="1775.4" cy="756.7" r="2.5"/><circle cx="1775.4" cy="761.7" r="2.5"/><circle cx="1775.4" cy="768.3" r="2.5"/>
<circle cx="1838" cy="682.7" r="2.5"/><circle cx="1838" cy="686.7" r="2.5"/><circle cx="1838" cy="690.7" r="2.5"/><circle cx="1838" cy="695" r="2.5"/><circle cx="1838" cy="699.3" r="2.5"/><circle cx="1838" cy="703.3" r="2.5"/><circle cx="1838" cy="707.3" r="2.5"/>
<circle cx="1838" cy="783.3" r="2.5"/><circle cx="1838" cy="786.7" r="2.5"/><circle cx="1838" cy="790" r="2.5"/><circle cx="1838" cy="795.7" r="2.5"/><circle cx="1838" cy="828.3" r="2.5"/><circle cx="1838" cy="881.7" r="2.5"/>
<circle cx="1900.6" cy="711.7" r="2.5"/><circle cx="1900.6" cy="768.3" r="2.5"/>
<circle cx="1963.1" cy="655.7" r="2.5"/><circle cx="1963.1" cy="661.7" r="2.5"/><circle cx="1963.1" cy="666.7" r="2.5"/><circle cx="1963.1" cy="671.7" r="2.5"/>
<circle cx="1963.1" cy="760" r="2.5"/><circle cx="1963.1" cy="765" r="2.5"/><circle cx="1963.1" cy="770" r="2.5"/><circle cx="1963.1" cy="776.7" r="2.5"/><circle cx="1963.1" cy="789.3" r="2.5"/><circle cx="1963.1" cy="820" r="2.5"/>
<circle cx="2025.7" cy="752.7" r="2.5"/>
</g>
<rect x="1181" y="532" width="875" height="357" fill="none" stroke="#262626" stroke-width="1.6"/>
<g stroke="#262626" stroke-width="1.4">
<line x1="1243.6" y1="889" x2="1243.6" y2="881"/><line x1="1368.7" y1="889" x2="1368.7" y2="881"/><line x1="1493.9" y1="889" x2="1493.9" y2="881"/><line x1="1619" y1="889" x2="1619" y2="881"/><line x1="1744.1" y1="889" x2="1744.1" y2="881"/><line x1="1869.3" y1="889" x2="1869.3" y2="881"/><line x1="1994.4" y1="889" x2="1994.4" y2="881"/>
<line x1="1243.6" y1="532" x2="1243.6" y2="540"/><line x1="1368.7" y1="532" x2="1368.7" y2="540"/><line x1="1493.9" y1="532" x2="1493.9" y2="540"/><line x1="1619" y1="532" x2="1619" y2="540"/><line x1="1744.1" y1="532" x2="1744.1" y2="540"/><line x1="1869.3" y1="532" x2="1869.3" y2="540"/><line x1="1994.4" y1="532" x2="1994.4" y2="540"/>
<line x1="1181" y1="603.4" x2="1189" y2="603.4"/><line x1="1181" y1="674.7" x2="1189" y2="674.7"/><line x1="1181" y1="746" x2="1189" y2="746"/><line x1="1181" y1="817.5" x2="1189" y2="817.5"/>
<line x1="2056" y1="603.4" x2="2048" y2="603.4"/><line x1="2056" y1="674.7" x2="2048" y2="674.7"/><line x1="2056" y1="746" x2="2048" y2="746"/><line x1="2056" y1="817.5" x2="2048" y2="817.5"/>
</g>
<text x="1183" y="571" font-size="38" font-weight="bold" fill="#000">(c) 2021</text>
<g font-size="35" fill="#262626" text-anchor="end">
<text x="1168" y="544.5">225</text><text x="1168" y="615.9">150</text><text x="1168" y="687.2">75</text><text x="1168" y="758.5">0</text><text x="1168" y="830">-75</text><text x="1168" y="901.5">-150</text>
</g>
<g font-size="35" fill="#262626" text-anchor="end">
<text transform="translate(1250,935) rotate(-20)">15-20 Jan</text>
<text transform="translate(1375,935) rotate(-20)">20-27&#160; Jan</text>
<text transform="translate(1500,935) rotate(-20)">27 Jan –3 Feb</text>
<text transform="translate(1625,935) rotate(-20)">3-23 Feb</text>
<text transform="translate(1750,935) rotate(-20)">23 Feb – 3 Mar</text>
<text transform="translate(1875,935) rotate(-20)">3-10 Mar</text>
<text transform="translate(2000,935) rotate(-20)">16-22 Mar</text>
</g>
<text transform="translate(1084,710) rotate(-90)" font-size="41" fill="#262626" text-anchor="middle" textLength="227" lengthAdjust="spacingAndGlyphs">ΔSWE (mm)</text>
</svg>
</body></html>
